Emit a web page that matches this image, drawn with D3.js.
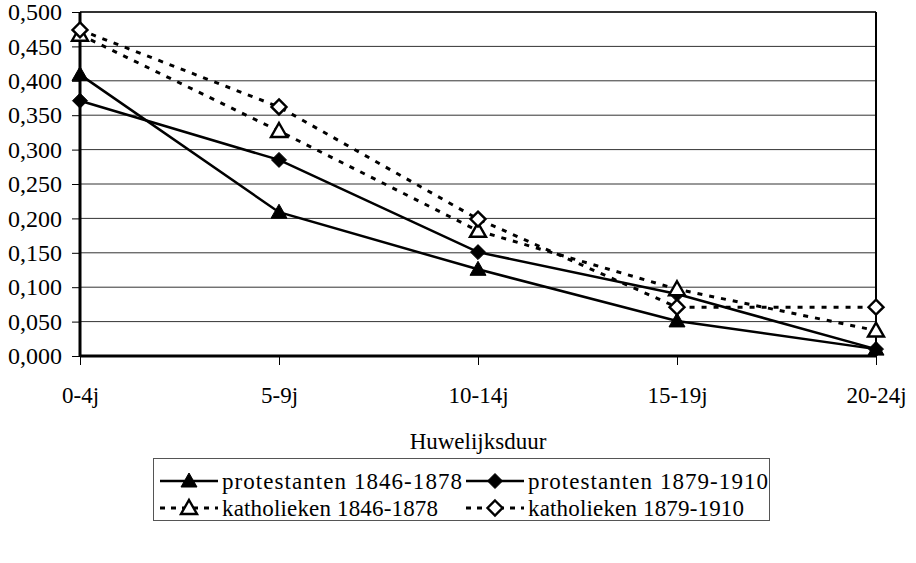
<!DOCTYPE html>
<html><head><meta charset="utf-8">
<script src="https://cdn.jsdelivr.net/npm/d3@7"></script>
<style>
html,body{margin:0;padding:0;background:#fff;}
svg{display:block;}
svg text{font-family:"Liberation Serif","DejaVu Serif","Times New Roman",serif;}
</style></head>
<body><svg id="c" width="916" height="563"></svg>
<script>
const categories = ["0-4j","5-9j","10-14j","15-19j","20-24j"];
const prot1846 = [0.409, 0.209, 0.126, 0.051, 0.010];
const prot1879 = [0.371, 0.285, 0.151, 0.090, 0.010];
const kath1846 = [0.467, 0.327, 0.182, 0.097, 0.037];
const kath1879 = [0.474, 0.362, 0.199, 0.071, 0.071];
const seriesNames = ["protestanten 1846-1878","protestanten 1879-1910","katholieken 1846-1878","katholieken 1879-1910"];
const yTicks = [0,0.05,0.1,0.15,0.2,0.25,0.3,0.35,0.4,0.45,0.5];
const xTitle = "Huwelijksduur";

const series = [
  {name: seriesNames[0], values: prot1846, dashed:false, marker:"triangle", filled:true},
  {name: seriesNames[1], values: prot1879, dashed:false, marker:"diamond", filled:true},
  {name: seriesNames[2], values: kath1846, dashed:true, marker:"triangle", filled:false},
  {name: seriesNames[3], values: kath1879, dashed:true, marker:"diamond", filled:false}
];

const FONT = "'Liberation Serif','DejaVu Serif','Times New Roman',serif";
const svg = d3.select("#c");
const L = 80, R = 876, T = 12, B = 356;
const x = d3.scalePoint().domain(categories).range([L, R]);
const y = d3.scaleLinear().domain([0, 0.5]).range([B, T]);
const fmt = v => d3.format(".3f")(v).replace(".", ",");

// gridlines
svg.append("g").selectAll("line").data(yTicks.slice(1)).join("line")
  .attr("x1", L).attr("x2", R).attr("y1", d => y(d)).attr("y2", d => y(d))
  .attr("stroke", "#333").attr("stroke-width", d => d === 0.5 ? 2 : 1);
// right border
svg.append("line").attr("x1", R).attr("x2", R).attr("y1", T).attr("y2", B)
  .attr("stroke", "#000").attr("stroke-width", 2);

// y axis
const yAxis = svg.append("g").attr("transform", `translate(${L},0)`)
  .call(d3.axisLeft(y).tickValues(yTicks).tickFormat(fmt).tickSize(8).tickPadding(10));
yAxis.attr("font-family", FONT);
yAxis.select(".domain").attr("stroke-width", 3).attr("d", `M0,${T}V${B}`);
yAxis.selectAll(".tick line").attr("stroke", "#000");
yAxis.selectAll("text").attr("font-size", 24).attr("fill", "#000").style("font-family", FONT);

// x axis
const xAxis = svg.append("g").attr("transform", `translate(0,${B})`)
  .call(d3.axisBottom(x).tickSize(9).tickPadding(22));
xAxis.attr("font-family", FONT);
xAxis.select(".domain").attr("stroke-width", 3).attr("d", `M${L},0H${R}`);
xAxis.selectAll(".tick line").attr("stroke", "#000");
xAxis.selectAll("text").attr("font-size", 23).attr("fill", "#000").style("font-family", FONT);

svg.append("text").attr("x", (L + R) / 2).attr("y", 449).attr("text-anchor", "middle")
  .attr("font-size", 23).style("font-family", FONT).text(xTitle);

// markers
function drawMarker(g, type, filled, cx, cy) {
  if (type === "triangle") {
    g.append("path").attr("d", `M${cx},${cy-8}L${cx+8},${cy+6}L${cx-8},${cy+6}Z`)
      .attr("fill", filled ? "#000" : "#fff").attr("stroke", "#000").attr("stroke-width", filled ? 1 : 2.4);
  } else {
    g.append("path").attr("d", `M${cx},${cy-7.5}L${cx+7.5},${cy}L${cx},${cy+7.5}L${cx-7.5},${cy}Z`)
      .attr("fill", filled ? "#000" : "#fff").attr("stroke", "#000").attr("stroke-width", filled ? 1 : 2.4);
  }
}

const line = d3.line().x((d, i) => x(categories[i])).y(d => y(d));
const plot = svg.append("g");
series.forEach(s => {
  plot.append("path").attr("d", line(s.values)).attr("fill", "none")
    .attr("stroke", "#000").attr("stroke-width", s.dashed ? 3 : 2.5)
    .attr("stroke-dasharray", s.dashed ? "5,7" : null);
});
series.forEach(s => {
  const g = plot.append("g");
  s.values.forEach((v, i) => drawMarker(g, s.marker, s.filled, x(categories[i]), y(v)));
});

// legend
const lg = svg.append("g");
lg.append("rect").attr("x", 153.5).attr("y", 458.5).attr("width", 616).attr("height", 62)
  .attr("fill", "#fff").attr("stroke", "#555").attr("stroke-width", 1);
const cols = [160, 466], rows = [481, 508];
series.forEach((s, i) => {
  const cx = cols[i % 2], cy = rows[Math.floor(i / 2)];
  const g = lg.append("g");
  g.append("line").attr("x1", cx).attr("x2", cx + 58).attr("y1", cy).attr("y2", cy)
    .attr("stroke", "#000").attr("stroke-width", s.dashed ? 3 : 2.5)
    .attr("stroke-dasharray", s.dashed ? "5,6" : null);
  drawMarker(g, s.marker, s.filled, cx + 29, cy);
  g.append("text").attr("x", cx + 62).attr("y", cy).attr("dy", "0.35em")
    .attr("font-size", 23).style("font-family", FONT)
    .attr("textLength", i < 2 ? 240 : 216).attr("lengthAdjust", "spacing").text(s.name);
});
</script></body></html>
